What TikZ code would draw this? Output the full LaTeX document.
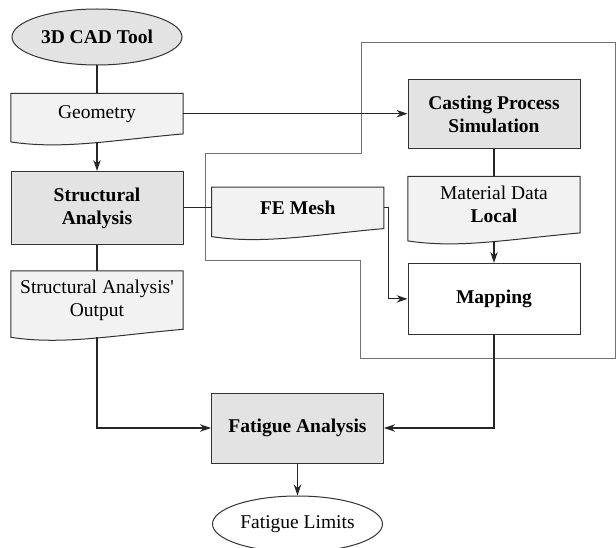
\documentclass[tikz,border=0pt]{standalone}
\usepackage{fontspec}
\setmainfont{Liberation Serif}
\usepackage{tikz}
\usetikzlibrary{shapes,backgrounds,arrows.meta,calc,positioning}

\begin{document}
\begin{tikzpicture}[x=1pt, y=-1pt, node distance=28pt,
  font=\fontsize{19.5}{23}\selectfont,
  proc/.style={draw=black!80, line width=1pt, fill=gray!22, align=center, inner sep=0pt,
    minimum width=172pt, font=\fontsize{19.5}{23}\selectfont\bfseries},
  doc/.style={align=center, inner sep=0pt, minimum width=172pt},
  term/.style={draw=black!80, line width=1pt, ellipse, inner sep=0pt, minimum width=170pt, minimum height=56pt},
  docline/.style={draw=black!80, line width=1pt, fill=gray!10},
  link/.style={draw=black!85, line width=1.1pt},
  arr/.style={link, -{Stealth[length=11pt,width=7.5pt]}}]
  \useasboundingbox (0,0) rectangle (616,548);
  % simulation area
  \draw[black!55, line width=1pt] (361,43) -- (615,43) -- (615,358) -- (360,358) -- (360,261)
    -- (205,261) -- (205,154) -- (361,154) -- cycle;

  \node[term, fill=gray!22, font=\fontsize{19.5}{23}\selectfont\bfseries] (cad) at (97,37) {3D CAD Tool};
  \node[doc, minimum height=40pt, below=28pt of cad] (geo) {Geometry};
  \node[proc, minimum height=73pt, below=37pt of geo] (sa) {Structural\\Analysis};
  \node[doc, minimum height=58pt, below=26pt of sa] (sao) {Structural Analysis\textquotesingle\\Output};
  \node[doc, minimum height=41pt, right=28pt of sa, font=\fontsize{19.5}{23}\selectfont\bfseries] (fem) {FE Mesh};
  \node[proc, minimum height=69pt] (cps) at (494,114.5) {Casting Process\\Simulation};
  \node[doc, minimum height=56pt, below=27pt of cps] (mat) {Material Data\\\textbf{Local}};
  \node[proc, fill=white, minimum height=71pt, below=30pt of mat] (map) {Mapping};
  \node[proc, minimum height=70pt] (fa) at (297.5,428) {Fatigue Analysis};
  \node[term, fill=white, below=32pt of fa] (fl) {Fatigue Limits};

  \begin{pgfonlayer}{background}
    \foreach \d in {geo,sao,fem,mat}
      \draw[docline] (\d.north west) -- (\d.north east) -- (\d.south east)
        .. controls ($(\d.south west)!0.6!(\d.south east)+(0,6)$)
        and ($(\d.south west)!0.3!(\d.south east)+(0,16)$) .. ($(\d.south west)+(0,8)$) -- cycle;
  \end{pgfonlayer}
  \coordinate (geo-out) at ($(geo.south)+(0,8)$);
  \coordinate (sao-out) at ($(sao.south)+(0,8)$);
  \coordinate (mat-out) at ($(mat.south)+(0,8)$);

  \draw[link] (cad) -- (geo);
  \draw[arr] (geo-out) -- (sa);
  \draw[arr] (geo.east) -- (geo.east -| cps.west);
  \draw[link] (sa.east) -- (sa.east -| fem.west);
  \draw[link] (sa) -- (sao);
  \draw[link] (cps) -- (cps.south |- mat.north);
  \draw[arr] (mat-out) -- (map);
  \draw[arr] (fem.east) -- ++(5,0) |- (map.west);
  \draw[arr] (sao-out) |- (fa.west);
  \draw[arr] (map.south) |- (fa.east);
  \draw[arr] (fa) -- (fl);
\end{tikzpicture}
\end{document}
